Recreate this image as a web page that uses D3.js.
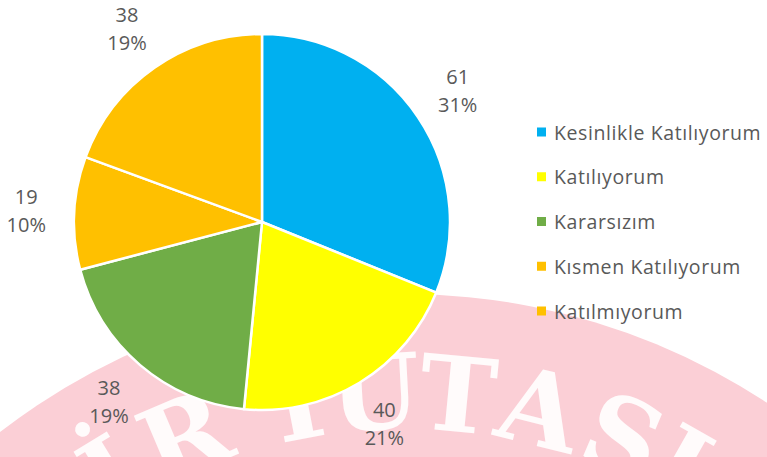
<!DOCTYPE html>
<html>
<head>
<meta charset="utf-8">
<script src="https://cdn.jsdelivr.net/npm/d3@7"></script>
<style>
  html, body { margin: 0; padding: 0; background: #fff; }
  svg { display: block; }
</style>
</head>
<body>
<svg id="chart" width="767" height="457"></svg>
<script>
// ---- data ----
const categories = ["Kesinlikle Katılıyorum", "Katılıyorum", "Kararsızım", "Kısmen Katılıyorum", "Katılmıyorum"];
const values = [61, 40, 38, 19, 38];
const percentLabels = ["31%", "21%", "19%", "10%", "19%"];
const colors = ["#00B0F0", "#FFFF00", "#70AD47", "#FFC000", "#FFC000"];
const watermarkLetters = ["İ", "R", "Y", "U", "T", "A", "S", "I"];

// ---- layout ----
const W = 767, H = 457;
const svg = d3.select("#chart");
const cx = 262, cy = 222, R = 188;
const textColor = "#595959";
const font = "'Open Sans', sans-serif";

// ---- background watermark (decorative stamp) ----
const wm = svg.append("g").attr("class", "watermark");
const wcx = 404, wcy = 954, wR = 660;
wm.append("circle").attr("cx", wcx).attr("cy", wcy).attr("r", wR)
  .attr("fill", "#FBCFD6");
const wmAngles = [-31.5, -23, -11, -3, 5.5, 14, 23, 29.5];
const wmR = 525;
wm.selectAll("text").data(watermarkLetters).join("text")
  .attr("transform", (d, i) => {
    const a = wmAngles[i] * Math.PI / 180;
    const x = wcx + wmR * Math.sin(a), y = wcy - wmR * Math.cos(a);
    return `translate(${x},${y}) rotate(${wmAngles[i]})`;
  })
  .attr("text-anchor", "middle")
  .attr("font-family", "'DejaVu Serif', serif")
  .attr("font-weight", "bold")
  .attr("font-size", 104)
  .attr("fill", "#FFFFFF")
  .attr("fill-opacity", 0.9)
  .text(d => d);

// ---- pie ----
const pie = d3.pie().sort(null).value(d => d);
const arcs = pie(values);
const arc = d3.arc().innerRadius(0).outerRadius(R);
const labelArc = d3.arc().innerRadius(236).outerRadius(236);

const g = svg.append("g").attr("transform", `translate(${cx},${cy})`);
g.selectAll("path.slice").data(arcs).join("path")
  .attr("class", "slice")
  .attr("d", arc)
  .attr("fill", (d, i) => colors[i])
  .attr("stroke", "#FFFFFF")
  .attr("stroke-width", 2.5)
  .attr("stroke-linejoin", "round");

const lbl = g.selectAll("g.lbl").data(arcs).join("g")
  .attr("class", "lbl")
  .attr("transform", d => `translate(${labelArc.centroid(d)})`);
lbl.append("text")
  .attr("text-anchor", "middle")
  .attr("y", -14)
  .attr("dominant-baseline", "central")
  .attr("font-family", font).attr("font-size", 20).attr("fill", textColor)
  .text(d => d.data);
lbl.append("text")
  .attr("text-anchor", "middle")
  .attr("y", 14)
  .attr("dominant-baseline", "central")
  .attr("font-family", font).attr("font-size", 20).attr("fill", textColor)
  .text((d, i) => percentLabels[i]);

// ---- legend ----
const legendY = d3.scalePoint().domain(categories).range([132, 311]);
const leg = svg.append("g").selectAll("g").data(categories).join("g")
  .attr("transform", d => `translate(537,${legendY(d)})`);
leg.append("rect").attr("x", 0).attr("y", -4.5).attr("width", 9).attr("height", 9)
  .attr("fill", (d, i) => colors[i]);
leg.append("text").attr("x", 17).attr("y", 0)
  .attr("dominant-baseline", "central")
  .attr("font-family", font).attr("font-size", 19.5)
  .attr("letter-spacing", 0.6)
  .attr("fill", textColor)
  .text(d => d);
</script>
</body>
</html>
